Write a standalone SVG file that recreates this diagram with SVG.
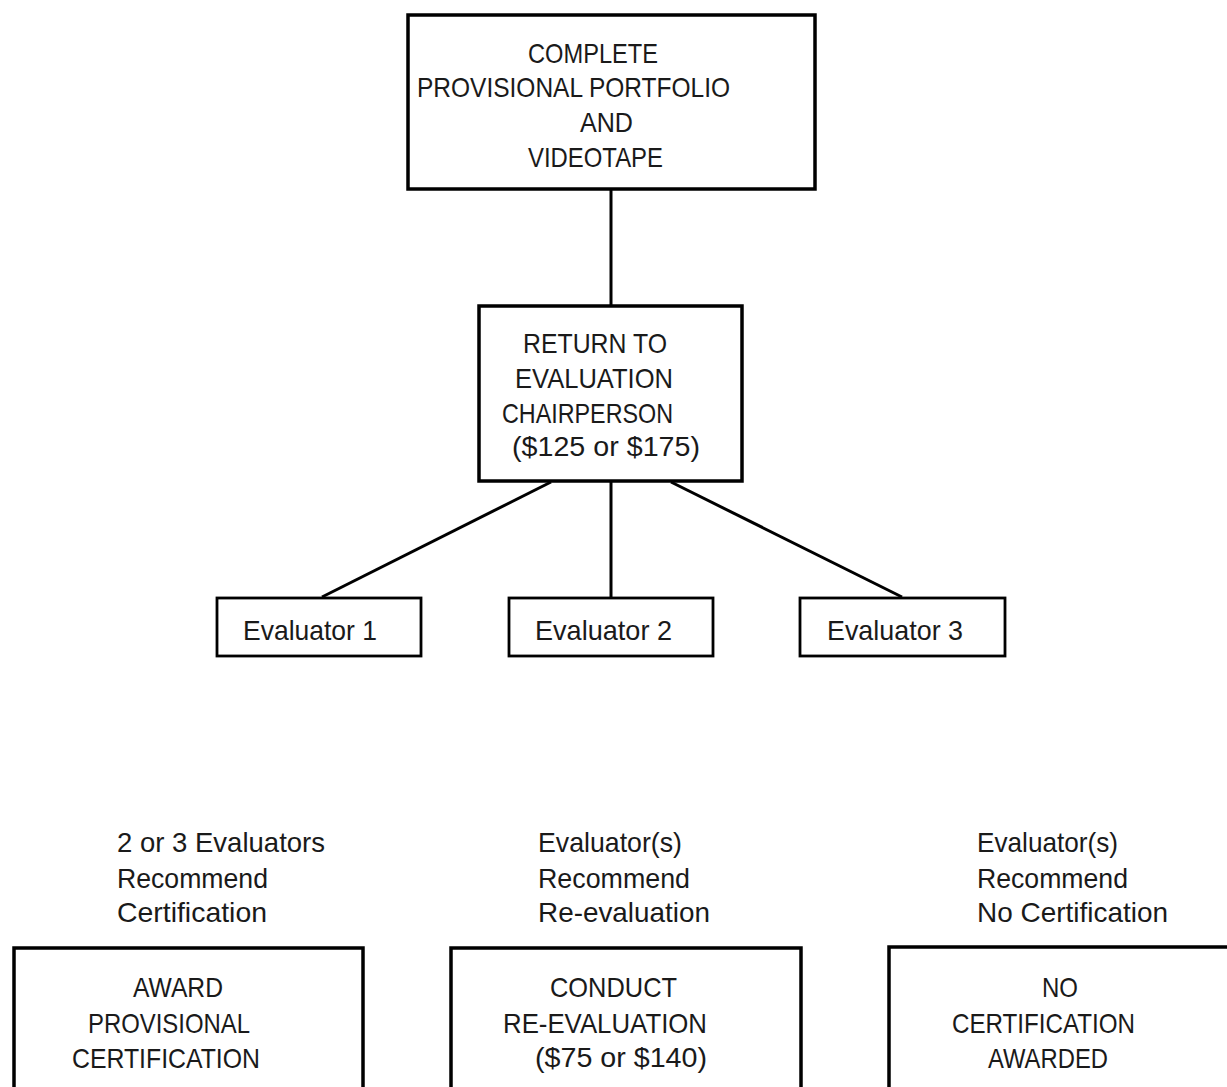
<svg xmlns="http://www.w3.org/2000/svg" width="1227" height="1087" viewBox="0 0 1227 1087">
<style>
.box{fill:#fff;stroke:#000;stroke-width:3.5}
.ebox{fill:#fff;stroke:#000;stroke-width:2.8}
.conn{stroke:#000;stroke-width:3;fill:none}
text{font-family:"Liberation Sans",Arial,sans-serif;font-size:28px;fill:#1a1a1a}
</style>
<rect width="1227" height="1087" fill="#fff"/>
<g id="connectors">
<line class="conn" x1="611" y1="190" x2="611" y2="305"/>
<line class="conn" x1="551" y1="482" x2="322" y2="597"/>
<line class="conn" x1="611" y1="482" x2="611" y2="597"/>
<line class="conn" x1="671" y1="482" x2="902" y2="597"/>
</g>
<g id="node-complete">
<rect class="box" x="408" y="15" width="407" height="174"/>
<text x="528" y="63" textLength="130" lengthAdjust="spacingAndGlyphs">COMPLETE</text>
<text x="417" y="97" textLength="313" lengthAdjust="spacingAndGlyphs">PROVISIONAL PORTFOLIO</text>
<text x="580" y="132" textLength="53" lengthAdjust="spacingAndGlyphs">AND</text>
<text x="528" y="167" textLength="135" lengthAdjust="spacingAndGlyphs">VIDEOTAPE</text>
</g>
<g id="node-return">
<rect class="box" x="479" y="306" width="263" height="175"/>
<text x="523" y="353" textLength="144" lengthAdjust="spacingAndGlyphs">RETURN TO</text>
<text x="515" y="388" textLength="158" lengthAdjust="spacingAndGlyphs">EVALUATION</text>
<text x="502" y="423" textLength="171" lengthAdjust="spacingAndGlyphs">CHAIRPERSON</text>
<text x="512" y="456" textLength="188" lengthAdjust="spacingAndGlyphs">($125 or $175)</text>
</g>
<g id="node-eval1">
<rect class="ebox" x="217" y="598" width="204" height="58"/>
<text x="243" y="640" textLength="134" lengthAdjust="spacingAndGlyphs">Evaluator 1</text>
</g>
<g id="node-eval2">
<rect class="ebox" x="509" y="598" width="204" height="58"/>
<text x="535" y="640" textLength="137" lengthAdjust="spacingAndGlyphs">Evaluator 2</text>
</g>
<g id="node-eval3">
<rect class="ebox" x="800" y="598" width="205" height="58"/>
<text x="827" y="640" textLength="136" lengthAdjust="spacingAndGlyphs">Evaluator 3</text>
</g>
<g id="label-certify">
<text x="117" y="852" textLength="208" lengthAdjust="spacingAndGlyphs">2 or 3 Evaluators</text>
<text x="117" y="888" textLength="151" lengthAdjust="spacingAndGlyphs">Recommend</text>
<text x="117" y="922" textLength="150" lengthAdjust="spacingAndGlyphs">Certification</text>
</g>
<g id="label-reeval">
<text x="538" y="852" textLength="144" lengthAdjust="spacingAndGlyphs">Evaluator(s)</text>
<text x="538" y="888" textLength="152" lengthAdjust="spacingAndGlyphs">Recommend</text>
<text x="538" y="922" textLength="172" lengthAdjust="spacingAndGlyphs">Re-evaluation</text>
</g>
<g id="label-nocert">
<text x="977" y="852" textLength="141" lengthAdjust="spacingAndGlyphs">Evaluator(s)</text>
<text x="977" y="888" textLength="151" lengthAdjust="spacingAndGlyphs">Recommend</text>
<text x="977" y="922" textLength="191" lengthAdjust="spacingAndGlyphs">No Certification</text>
</g>
<g id="node-award">
<rect class="box" x="14" y="948" width="349" height="170"/>
<text x="133" y="997" textLength="90" lengthAdjust="spacingAndGlyphs">AWARD</text>
<text x="88" y="1033" textLength="162" lengthAdjust="spacingAndGlyphs">PROVISIONAL</text>
<text x="72" y="1068" textLength="188" lengthAdjust="spacingAndGlyphs">CERTIFICATION</text>
</g>
<g id="node-conduct">
<rect class="box" x="451" y="948" width="350" height="170"/>
<text x="550" y="997" textLength="127" lengthAdjust="spacingAndGlyphs">CONDUCT</text>
<text x="503" y="1033" textLength="204" lengthAdjust="spacingAndGlyphs">RE-EVALUATION</text>
<text x="535" y="1067" textLength="172" lengthAdjust="spacingAndGlyphs">($75 or $140)</text>
</g>
<g id="node-nocert">
<rect class="box" x="889" y="947" width="360" height="170"/>
<text x="1042" y="997" textLength="36" lengthAdjust="spacingAndGlyphs">NO</text>
<text x="952" y="1033" textLength="183" lengthAdjust="spacingAndGlyphs">CERTIFICATION</text>
<text x="988" y="1068" textLength="120" lengthAdjust="spacingAndGlyphs">AWARDED</text>
</g>
</svg>
